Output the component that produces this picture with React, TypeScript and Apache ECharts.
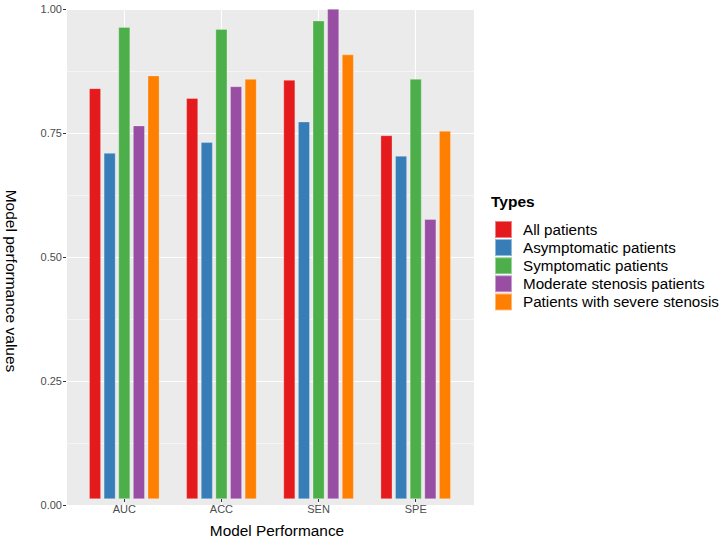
import React, { useEffect, useRef } from "react";
import * as echarts from "echarts";

const categories = ["AUC", "ACC", "SEN", "SPE"];
const seriesNames = [
  "All patients",
  "Asymptomatic patients",
  "Symptomatic patients",
  "Moderate stenosis patients",
  "Patients with severe stenosis",
];
const allPatients = [0.838, 0.818, 0.855, 0.742];
const asymptomaticPatients = [0.706, 0.728, 0.77, 0.7];
const symptomaticPatients = [0.963, 0.959, 0.976, 0.857];
const moderateStenosis = [0.762, 0.842, 1.0, 0.571];
const severeStenosis = [0.864, 0.857, 0.907, 0.751];
const seriesColors = ["#E41A1C", "#377EB8", "#4DAF4A", "#984EA3", "#FF7F00"];
const yTicks = [0, 0.25, 0.5, 0.75, 1.0];

const FONT = "'Liberation Sans', Arial, Helvetica, sans-serif";

export default function App() {
  const ref = useRef<HTMLDivElement>(null);
  useEffect(() => {
    if (!ref.current) return;
    const chart = echarts.init(ref.current, null, { renderer: "svg" });
    const values = [
      allPatients,
      asymptomaticPatients,
      symptomaticPatients,
      moderateStenosis,
      severeStenosis,
    ];
    const panelLeft = 66;
    const panelTop = 9;
    const panelWidth = 408;
    const panelHeight = 496;
    const unit = panelWidth / 4.2;
    const option: any = {
      animation: false,
      backgroundColor: "#ffffff",
      textStyle: { fontFamily: FONT },
      grid: [
        {
          left: panelLeft,
          top: panelTop,
          width: panelWidth,
          height: panelHeight,
          show: true,
          backgroundColor: "#EBEBEB",
          borderWidth: 0,
        },
        {
          left: panelLeft + 0.1 * unit,
          top: panelTop,
          width: 4 * unit,
          height: panelHeight,
          show: false,
        },
      ],
      xAxis: [
        {
          type: "value",
          gridIndex: 0,
          min: 0.4,
          max: 4.6,
          splitNumber: 4,
          axisLine: { show: false },
          axisTick: { show: false },
          axisLabel: { show: false },
          splitLine: { show: true, lineStyle: { color: "#ffffff", width: 1.1 } },
        },
        {
          type: "category",
          gridIndex: 1,
          data: categories,
          axisLine: { show: false },
          axisTick: {
            show: true,
            alignWithLabel: true,
            length: 3,
            lineStyle: { color: "#333333", width: 1 },
          },
          axisLabel: {
            color: "#4D4D4D",
            fontSize: 11,
            margin: 4,
            fontFamily: FONT,
          },
          splitLine: { show: false },
          name: "Model Performance",
          nameLocation: "middle",
          nameGap: 24,
          nameTextStyle: {
            color: "#000000",
            fontSize: 15.4,
            fontFamily: FONT,
            padding: [0, 0, 0, 14],
          },
        },
      ],
      yAxis: [
        {
          type: "value",
          gridIndex: 0,
          min: 0,
          max: 1,
          interval: 0.25,
          axisLine: { show: false },
          axisTick: {
            show: true,
            length: 3,
            lineStyle: { color: "#333333", width: 1 },
          },
          axisLabel: {
            color: "#4D4D4D",
            fontSize: 11,
            margin: 4,
            fontFamily: FONT,
            formatter: (v: number) =>
              yTicks.some((t) => Math.abs(t - v) < 1e-9) ? v.toFixed(2) : "",
          },
          splitLine: { show: true, lineStyle: { color: "#ffffff", width: 1.1 } },
          minorTick: { show: false, splitNumber: 2 },
          minorSplitLine: { show: true, lineStyle: { color: "#ffffff", width: 0.5 } },
        },
        {
          type: "value",
          gridIndex: 1,
          min: 0,
          max: 1,
          interval: 0.25,
          show: false,
          splitLine: { show: false },
        },
      ],
      legend: {
        orient: "vertical",
        left: 494,
        top: 220,
        padding: 0,
        itemWidth: 17,
        itemHeight: 17,
        itemGap: -0.9,
        icon: "rect",
        data: seriesNames,
        textStyle: {
          color: "#000000",
          fontSize: 15.2,
          lineHeight: 17,
          fontFamily: FONT,
          padding: [0, 0, 0, 6],
        },
        selectedMode: false,
      },
      graphic: [
        {
          type: "text",
          left: 491,
          top: 193,
          style: {
            text: "Types",
            fontSize: 15.5,
            fontWeight: "bold",
            fontFamily: FONT,
            fill: "#000000",
          },
        },
        {
          type: "text",
          x: 11,
          y: 281,
          rotation: -Math.PI / 2,
          style: {
            text: "Model performance values",
            fontSize: 15.5,
            fontFamily: FONT,
            fill: "#000000",
            align: "center",
            verticalAlign: "middle",
          },
        },
      ],
      series: seriesNames.map((name, i) => ({
        name,
        type: "bar",
        xAxisIndex: 1,
        yAxisIndex: 1,
        data: values[i],
        barWidth: 11.7,
        barGap: "25%",
        itemStyle: {
          color: seriesColors[i],
          borderColor: "rgba(255,255,255,0.45)",
          borderWidth: 0.6,
        },
        emphasis: { disabled: true },
      })),
    };
    chart.setOption(option);
    return () => chart.dispose();
  }, []);
  return (
    <div
      ref={ref}
      style={{ position: "fixed", left: 0, top: 0, width: 727, height: 543 }}
    />
  );
}
